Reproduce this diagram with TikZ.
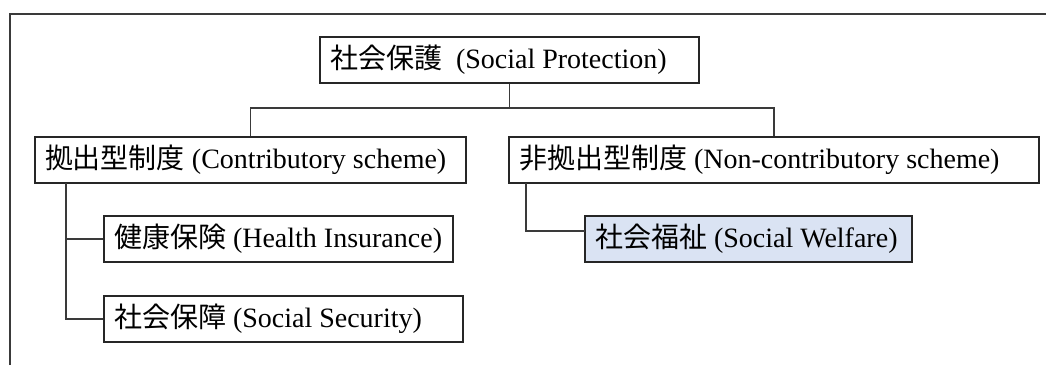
\documentclass[tikz,border=0pt]{standalone}
\usepackage{fontspec}
\setmainfont{Liberation Serif}
\newfontfamily\cjk{Noto Sans CJK JP}
\definecolor{boxline}{HTML}{262626}
\definecolor{conline}{HTML}{3A3A3A}
\definecolor{welfarefill}{HTML}{DAE3F3}
\newcommand\boxtext[2]{\makebox[#1][l]{#2}}
\begin{document}
\begin{tikzpicture}[x=0.75pt,y=-0.75pt,
  boxnode/.style={draw=boxline,line width=1pt,rectangle,fill=white,
    inner xsep=7.5pt,inner ysep=0pt,minimum height=34.5pt,
    font=\fontsize{21}{24}\selectfont},
  conn/.style={draw=conline,line width=1pt},
  frameline/.style={draw=conline,line width=1.1pt}]
\useasboundingbox (0,0) rectangle (1046,365);
\draw[frameline] (10,365) -- (10,14) -- (1046,14);

\node[boxnode] (top) at (509.5,60) {\boxtext{269.25pt}{{\cjk 社会保護}\ \ (Social Protection)}};
\node[boxnode] (contrib) at (250.5,160) {\boxtext{308.25pt}{{\cjk 拠出型制度} (Contributory scheme)}};
\node[boxnode] (noncon) at (774,160) {\boxtext{382.5pt}{{\cjk 非拠出型制度} (Non-contributory scheme)}};
\node[boxnode] (health) at (278.5,239) {\boxtext{246.75pt}{{\cjk 健康保険} (Health Insurance)}};
\node[boxnode] (ss) at (283.5,319) {\boxtext{254.25pt}{{\cjk 社会保障} (Social Security)}};
\node[boxnode,fill=welfarefill] (welfare) at (748.5,239) {\boxtext{230.25pt}{{\cjk 社会福祉} (Social Welfare)}};

\coordinate (j) at (509.5,108);
\coordinate (cv) at (66,183);
\coordinate (nv) at (526,183);
\coordinate (wj) at (585,231);

\draw[conn] (top.south) -- (j);
\draw[conn] (contrib.north) |- (j) -| (noncon.north);
\draw[conn] (cv) |- (health.west);
\draw[conn] (cv) |- (ss.west);
\draw[conn] (nv) |- (wj);
\end{tikzpicture}
\end{document}
